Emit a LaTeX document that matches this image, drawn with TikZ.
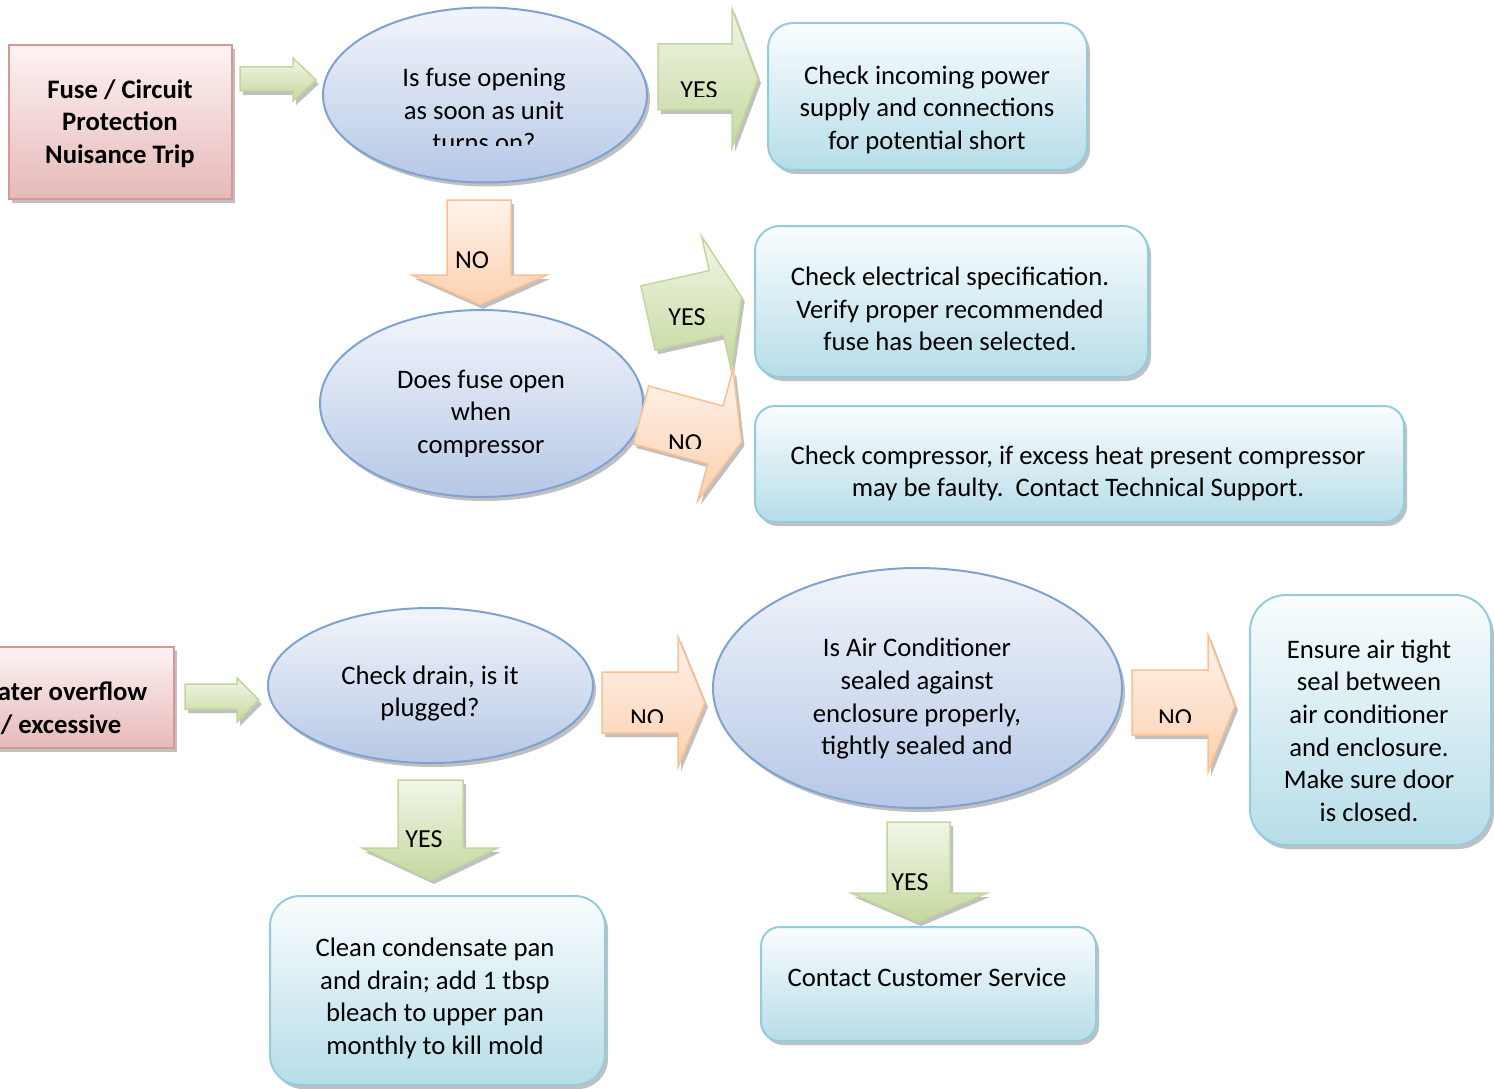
\documentclass[tikz,border=0pt]{standalone}
\usepackage{fontspec}
\setmainfont{Carlito}
\usetikzlibrary{shapes.geometric,shadows}
\definecolor{pinkline}{HTML}{D99694}
\definecolor{pinktop}{HTML}{FDF3F3}
\definecolor{pinkbot}{HTML}{E6B9B8}
\definecolor{ellline}{HTML}{7EA3D2}
\definecolor{elltop}{HTML}{F2F5FB}
\definecolor{ellbot}{HTML}{B6C8E6}
\definecolor{boxline}{HTML}{93CDDD}
\definecolor{boxtop}{HTML}{FAFDFE}
\definecolor{boxbot}{HTML}{B6DDE8}
\definecolor{greenline}{HTML}{C3D69B}
\definecolor{greentop}{HTML}{F1F6E7}
\definecolor{greenbot}{HTML}{C5D89E}
\definecolor{orline}{HTML}{FAC08F}
\definecolor{ortop}{HTML}{FFF3EB}
\definecolor{orbot}{HTML}{FBD0AE}
\begin{document}
\begin{tikzpicture}[x=1pt,y=-1pt,
  dshadow/.style={drop shadow={shadow xshift=3pt,shadow yshift=-4pt,opacity=0.55,fill=black!45}},
  pinkbox/.style={rectangle,draw=pinkline,line width=2pt,top color=pinktop,bottom color=pinkbot,inner sep=0pt,dshadow},
  ellnode/.style={ellipse,draw=ellline,line width=2pt,top color=elltop,bottom color=ellbot,inner sep=0pt,dshadow},
  bluebox/.style={rectangle,draw=boxline,line width=2pt,top color=boxtop,bottom color=boxbot,inner sep=0pt,dshadow},
  garrow/.style={draw=greenline,line width=1.5pt,top color=greentop,bottom color=greenbot,line join=miter,dshadow},
  oarrow/.style={draw=orline,line width=1.5pt,top color=ortop,bottom color=orbot,line join=miter,dshadow},
  txt/.style={font=\fontsize{26.7}{32.6}\selectfont,align=center,inner sep=0pt,
    execute at begin node=\strut,execute at end node=\strut},
  btxt/.style={txt,font=\fontsize{26.7}{32.6}\selectfont\bfseries},
  lab/.style={font=\fontsize{26}{32}\selectfont,inner sep=0pt,anchor=base}]
\useasboundingbox (0,0) rectangle (1494,1089);
\clip (0,0) rectangle (1494,1089);

% ---------- shapes ----------
\node[pinkbox,minimum width=223pt,minimum height=154pt] (fuse) at (120.5,122) {};
\node[pinkbox,minimum width=227pt,minimum height=101pt] (water) at (60.5,697.5) {};

\node[ellnode,minimum width=324pt,minimum height=175pt] (q1) at (485,95) {};
\node[ellnode,minimum width=323pt,minimum height=187pt] (q2) at (481.5,403.5) {};
\node[ellnode,minimum width=325pt,minimum height=155pt] (q3) at (430.5,685.5) {};
\node[ellnode,minimum width=409pt,minimum height=240pt] (q4) at (917.5,688) {};

\node[bluebox,rounded corners=25pt,minimum width=319pt,minimum height=147pt] (b1) at (927.5,96.5) {};
\node[bluebox,rounded corners=25pt,minimum width=393pt,minimum height=151pt] (b2) at (951.5,301.5) {};
\node[bluebox,rounded corners=20pt,minimum width=649pt,minimum height=116pt] (b3) at (1079.5,464) {};
\node[bluebox,rounded corners=36pt,minimum width=241pt,minimum height=250pt] (b4) at (1370.5,720) {};
\node[bluebox,rounded corners=30pt,minimum width=335pt,minimum height=189pt] (b5) at (437.5,990.5) {};
\node[bluebox,rounded corners=19pt,minimum width=335pt,minimum height=114pt] (b6) at (928.5,984) {};

% ---------- block arrows ----------
\path[garrow] (240,67) -- (293,67) -- (293,58) -- (316,80) -- (293,101) -- (293,91) -- (240,91) -- cycle;
\path[garrow] (658,44) -- (732,44) -- (732,9) -- (758,79) -- (732,148) -- (732,110) -- (658,110) -- cycle;
\path[oarrow] (447,200) -- (511,200) -- (511,275) -- (547,275) -- (480,305) -- (412,275) -- (447,275) -- cycle;
\begin{scope}[shift={(648,318)},rotate=12.5]
  \path[garrow] (0,-33) -- (70,-33) -- (70,-68) -- (96,0) -- (70,68) -- (70,33) -- (0,33) -- cycle;
\end{scope}
\begin{scope}[shift={(641,415)},rotate=-15]
  \path[oarrow] (0,-30) -- (77,-30) -- (77,-68) -- (104,0) -- (77,68) -- (77,30) -- (0,30) -- cycle;
\end{scope}
\path[garrow] (185,684) -- (237,684) -- (237,678) -- (259,700) -- (237,722) -- (237,709) -- (185,709) -- cycle;
\path[oarrow] (602,672) -- (678,672) -- (678,637) -- (705,703) -- (678,767) -- (678,733) -- (602,733) -- cycle;
\path[oarrow] (1132,670) -- (1208,670) -- (1208,635) -- (1235,706) -- (1208,772) -- (1208,735) -- (1132,735) -- cycle;
\path[garrow] (398,780) -- (463,780) -- (463,848) -- (498,848) -- (431,880) -- (362,848) -- (398,848) -- cycle;
\path[garrow] (887,822) -- (950,822) -- (950,893) -- (987,893) -- (918,922) -- (851,893) -- (887,893) -- cycle;

% ---------- texts ----------
\node[btxt] (fuset) at (120,126.5) {Fuse / Circuit\\Protection\\Nuisance Trip};
\node[btxt] (watert) at (61,712.5) {Water overflow\\/ excessive};

\begin{scope}
  \clip (300,0) rectangle (680,146);
  \node[txt] (q1t) at (484,115) {Is fuse opening\\as soon as unit\\turns on?};
\end{scope}
\begin{scope}
  \clip (300,300) rectangle (680,456);
  \node[txt] (q2t) at (481,416.5) {Does fuse open\\when\\compressor};
\end{scope}
\node[txt] (q3t) at (430,696) {Check drain, is it\\plugged?};
\node[txt] (q4t) at (917,701.5) {Is Air Conditioner\\sealed against\\enclosure properly,\\tightly sealed and};

\node[txt] (b1t) at (927,112.5) {Check incoming power\\supply and connections\\for potential short};
\node[txt] (b2t) at (950,314) {Check electrical specification.\\Verify proper recommended\\fuse has been selected.};
\node[txt] (b3t) at (1078,476) {Check compressor, if excess heat present compressor\\may be faulty.\ \ Contact Technical Support.};
\node[txt] (b4t) at (1369,735.5) {Ensure air tight\\seal between\\air conditioner\\and enclosure.\\Make sure door\\is closed.};
\node[txt] (b5t) at (435,1001) {Clean condensate pan\\and drain; add 1 tbsp\\bleach to upper pan\\monthly to kill mold};
\node[txt] (b6t) at (927,980) {Contact Customer Service};

% ---------- arrow labels ----------
\begin{scope}
  \clip (600,0) rectangle (760,97);
  \node[lab] (l1) at (699,99) {YES};
\end{scope}
\node[lab] (l2) at (472,268) {NO};
\node[lab] (l3) at (687,325) {YES};
\begin{scope}
  \clip (600,380) rectangle (760,448);
  \node[lab] (l4) at (685,451) {NO};
\end{scope}
\begin{scope}
  \clip (590,640) rectangle (720,722);
  \node[lab] (l5) at (647,726) {NO};
\end{scope}
\begin{scope}
  \clip (1120,640) rectangle (1240,722);
  \node[lab] (l6) at (1175,726) {NO};
\end{scope}
\node[lab] (l7) at (424,847) {YES};
\node[lab] (l8) at (910,890) {YES};
\end{tikzpicture}
\end{document}
